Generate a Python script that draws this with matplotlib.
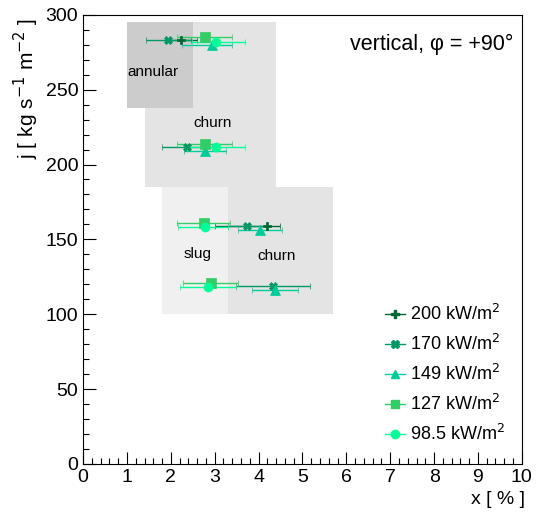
import matplotlib.pyplot as plt
from matplotlib.patches import Rectangle
from matplotlib.lines import Line2D
from matplotlib.ticker import MultipleLocator

plt.rcParams['font.family'] = ['Liberation Sans', 'DejaVu Sans']

# heat flux series: x [%], j, x error low/high
labels = ['200 kW/m$^2$', '170 kW/m$^2$', '149 kW/m$^2$', '127 kW/m$^2$', '98.5 kW/m$^2$']
colors = ['#006633', '#009966', '#00cc99', '#33cc66', '#00ff99']
markers = ['P', 'X', '^', 's', 'o']
msizes = [6, 6, 6.5, 6.5, 6.5]

x200 = [2.23, 4.20]
j200 = [283, 159]
xlo200 = [1.90, 3.00]
xhi200 = [2.60, 4.49]

x170 = [1.93, 2.36, 3.74, 4.32]
j170 = [283, 212, 159, 119]
xlo170 = [1.43, 1.80, 3.30, 3.49]
xhi170 = [2.45, 2.94, 4.20, 5.17]

x149 = [2.94, 2.79, 4.03, 4.37]
j149 = [280, 209, 156, 116]
xlo149 = [2.26, 2.30, 3.52, 3.86]
xhi149 = [3.39, 3.25, 4.53, 4.90]

x127 = [2.78, 2.78, 2.76, 2.91]
j127 = [285, 214, 161, 121]
xlo127 = [2.14, 2.14, 2.13, 2.27]
xhi127 = [3.39, 3.39, 3.35, 3.54]

x985 = [3.03, 3.04, 2.79, 2.85]
j985 = [282, 212, 158.5, 118.5]
xlo985 = [2.48, 2.40, 2.17, 2.22]
xhi985 = [3.69, 3.70, 3.30, 3.49]

series = [(x200, j200, xlo200, xhi200), (x170, j170, xlo170, xhi170),
          (x149, j149, xlo149, xhi149), (x127, j127, xlo127, xhi127),
          (x985, j985, xlo985, xhi985)]

# flow pattern regions: (x0, x1, y0, y1, colour, label, label x, label y)
regions = [
    (1.4, 4.4, 185, 295, '#e4e4e4', 'churn', 2.95, 228),
    (1.0, 2.5, 238, 295, '#cccccc', 'annular', 1.6, 262),
    (1.8, 3.3, 100, 185, '#f0f0f0', 'slug', 2.6, 140),
    (3.3, 5.7, 100, 185, '#e4e4e4', 'churn', 4.42, 139),
]

fig = plt.figure(figsize=(5.43, 5.12), dpi=100)
ax = fig.add_axes([0.153, 0.094, 0.808, 0.877])

for x0, x1, y0, y1, c, txt, tx, ty in regions:
    ax.add_patch(Rectangle((x0, y0), x1 - x0, y1 - y0, facecolor=c, edgecolor='none', zorder=0))
    ax.text(tx, ty, txt, ha='center', va='center', fontsize=11)

handles = []
for (xs, js, lo, hi), c, m, ms, lab in zip(series, colors, markers, msizes, labels):
    err = [[a - b for a, b in zip(xs, lo)], [b - a for a, b in zip(xs, hi)]]
    ax.errorbar(xs, js, xerr=err, fmt=m, color=c, ms=ms, mec=c, mew=0.5, elinewidth=1,
                capsize=2, capthick=1, zorder=3)
    handles.append(Line2D([], [], color=c, marker=m, ms=ms - 0.5, lw=1, label=lab))

ax.text(9.8, 280, 'vertical, φ = +90°', ha='right', va='center', fontsize=15.5)

ax.set_xlim(0, 10)
ax.set_ylim(0, 300)
ax.xaxis.set_major_locator(MultipleLocator(1))
ax.xaxis.set_minor_locator(MultipleLocator(0.2))
ax.yaxis.set_major_locator(MultipleLocator(50))
ax.yaxis.set_minor_locator(MultipleLocator(10))
ax.tick_params(which='both', direction='in', top=False, right=False, labelsize=14)
ax.tick_params(which='major', length=9, width=0.8)
ax.tick_params(which='minor', length=4.5, width=0.8)

fig.text(525 / 543, 1 - 499 / 512, 'x [ % ]', ha='right', va='center', fontsize=14)
fig.text(26 / 543, 1 - 18 / 512, 'j [ kg s$^{-1}$ m$^{-2}$ ]', ha='center', va='top',
         rotation=90, fontsize=15)

leg = ax.legend(handles=handles, loc='upper left', bbox_to_anchor=(0.672, 0.372),
                frameon=False, fontsize=13, handlelength=1.1, labelspacing=0.55,
                handletextpad=0.3, borderaxespad=0)

fig.savefig('out.png', dpi=100)
